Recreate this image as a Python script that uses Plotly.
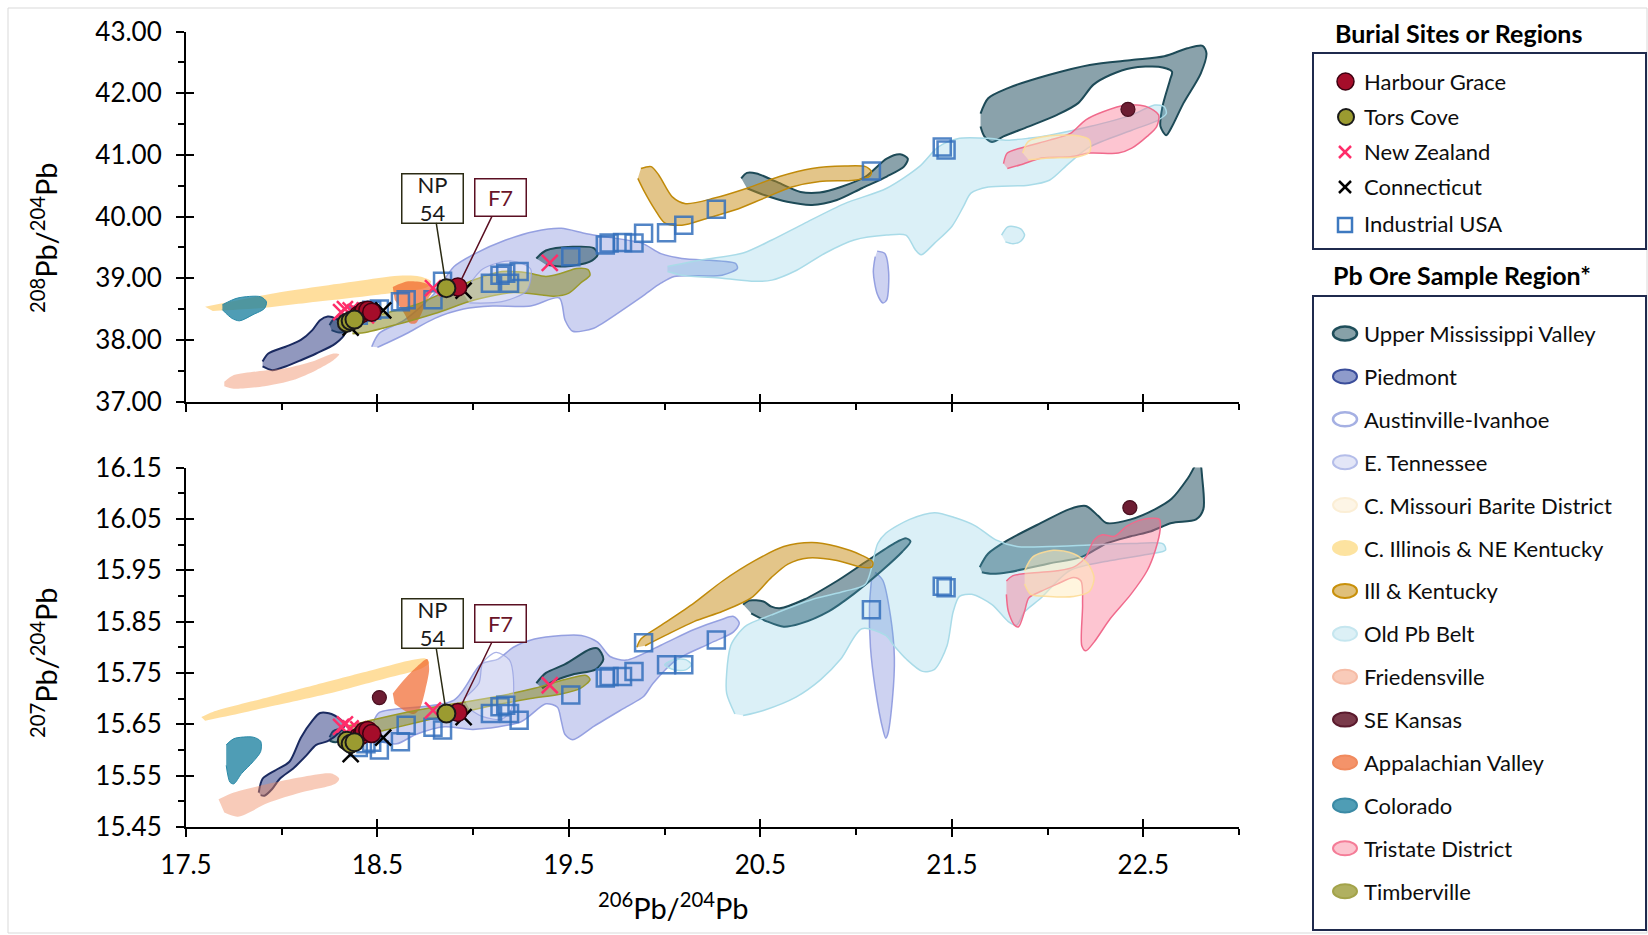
import plotly.graph_objects as go

# ---------------------------------------------------------------- data
X_TICKS = [17.5, 18.5, 19.5, 20.5, 21.5, 22.5]
Y_TOP_TICKS = [37, 38, 39, 40, 41, 42, 43]
Y_BOT_TICKS = [15.45, 15.55, 15.65, 15.75, 15.85, 15.95, 16.05, 16.15]

# burial sites (206/204, 208/204, 207/204)
IND_X = [18.40, 18.44, 18.47, 18.51, 18.62, 18.65, 18.79, 18.84, 19.09, 19.14, 19.17, 19.19, 19.24,
         19.51, 19.69, 19.71, 19.78, 19.84, 19.89, 20.01, 20.10, 20.27, 21.08, 21.45, 21.47]
IND_TOP = [38.40, 38.45, 38.48, 38.50, 38.62, 38.65, 38.65, 38.95, 38.92, 39.05, 39.08, 38.92, 39.11,
           39.35, 39.54, 39.57, 39.58, 39.57, 39.73, 39.74, 39.86, 40.12, 40.74, 41.13, 41.08]
IND_BOT = [15.605, 15.612, 15.615, 15.600, 15.616, 15.648, 15.644, 15.639, 15.671, 15.684, 15.687, 15.671, 15.658,
           15.707, 15.740, 15.743, 15.743, 15.753, 15.809, 15.766, 15.766, 15.814, 15.873, 15.919, 15.916]

HG_X = [18.40, 18.42, 18.43, 18.45, 18.47, 18.92]
HG_TOP = [38.40, 38.43, 38.47, 38.48, 38.45, 38.86]
HG_BOT = [15.625, 15.630, 15.636, 15.638, 15.632, 15.673]

TC_X = [18.34, 18.36, 18.38, 18.86]
TC_TOP = [38.28, 38.31, 38.33, 38.84]
TC_BOT = [15.618, 15.612, 15.615, 15.671]

NZ_X = [18.31, 18.33, 18.36, 18.40, 18.44, 18.79, 19.40]
NZ_TOP = [38.45, 38.50, 38.48, 38.44, 38.40, 38.84, 39.25]
NZ_BOT = [15.645, 15.650, 15.642, 15.640, 15.637, 15.677, 15.726]

CT_X = [18.36, 18.53, 18.95]
CT_TOP = [38.20, 38.48, 38.80]
CT_BOT = [15.592, 15.624, 15.664]

SEK_TOP_X = [22.42]
SEK_TOP_Y = [41.74]
SEK_BOT_X = [18.51, 22.43]
SEK_BOT_Y = [15.702, 16.072]

# ore-region outlines (None separates polygons)
UMV_TOP_X = [21.65, 21.69, 21.79, 22.01, 22.22, 22.44, 22.61, 22.73, 22.81, 22.83, 22.80, 22.71, 22.65, 22.62, 22.59,
             22.60, 22.64, 22.65, 22.58, 22.44, 22.33, 22.24, 22.16, 22.05, 21.90, 21.77, 21.71, 21.67, 21.65, None,
             20.40, 20.43, 20.48, 20.58, 20.71, 20.81, 20.92, 21.05, 21.16, 21.23, 21.27, 21.25, 21.16, 21.03, 20.90,
             20.77, 20.64, 20.52, 20.43, None,
             19.33, 19.38, 19.52, 19.63, 19.65, 19.61, 19.48, 19.38, None,
             18.25, 18.27, 18.33, 18.36, 18.35, 18.30, 18.26]
UMV_TOP_Y = [41.67, 41.92, 42.08, 42.30, 42.46, 42.54, 42.60, 42.73, 42.77, 42.65, 42.32, 41.84, 41.46, 41.32, 41.46,
             41.78, 42.22, 42.35, 42.43, 42.41, 42.30, 42.14, 41.84, 41.65, 41.46, 41.30, 41.21, 41.30, 41.46, None,
             40.62, 40.71, 40.70, 40.57, 40.40, 40.39, 40.48, 40.65, 40.94, 41.01, 40.94, 40.81, 40.65, 40.46, 40.27,
             40.19, 40.24, 40.35, 40.46, None,
             39.32, 39.45, 39.51, 39.49, 39.38, 39.27, 39.19, 39.22, None,
             38.24, 38.33, 38.35, 38.29, 38.16, 38.12, 38.16]
UMV_BOT_X = [21.646, 21.689, 21.795, 21.966, 22.115, 22.20, 22.264, 22.307, 22.435, 22.563, 22.648, 22.733, 22.793,
             22.808, 22.814, 22.776, 22.648, 22.541, 22.435, 22.307, 22.179, 22.008, 21.795, 21.71, 21.657, None,
             20.41, 20.441, 20.516, 20.558, 20.601, 20.729, 20.90, 21.049, 21.198, 21.262, 21.284, 21.241, 21.134,
             20.985, 20.857, 20.708, 20.622, 20.537, 20.452, None,
             19.33, 19.38, 19.48, 19.61, 19.65, 19.68, 19.64, 19.52, 19.42, 19.36, None,
             18.25, 18.27, 18.31, 18.33, 18.32, 18.28, 18.25]
UMV_BOT_Y = [15.956, 15.982, 16.009, 16.042, 16.069, 16.075, 16.056, 16.042, 16.049, 16.069, 16.089, 16.129, 16.165,
             16.129, 16.069, 16.049, 16.042, 16.026, 16.016, 16.002, 15.976, 15.963, 15.946, 15.943, 15.946, None,
             15.883, 15.891, 15.889, 15.879, 15.876, 15.893, 15.929, 15.966, 16.002, 16.012, 16.006, 15.986, 15.949,
             15.903, 15.870, 15.846, 15.840, 15.850, 15.866, None,
             15.730, 15.750, 15.767, 15.796, 15.798, 15.777, 15.757, 15.747, 15.734, 15.720, None,
             15.625, 15.637, 15.640, 15.632, 15.620, 15.615, 15.618]

PIED_TOP_X = [17.90, 17.93, 18.02, 18.10, 18.16, 18.20, 18.24, 18.28, 18.32, 18.33, 18.28, 18.18, 18.10, 18.02, 17.95, 17.90]
PIED_TOP_Y = [37.65, 37.78, 37.89, 38.00, 38.16, 38.32, 38.38, 38.35, 38.24, 38.11, 37.94, 37.78, 37.67, 37.57, 37.51, 37.57]
PIED_BOT_X = [17.88, 17.90, 17.97, 18.04, 18.10, 18.16, 18.20, 18.26, 18.33, 18.30, 18.24, 18.18, 18.13, 18.06, 17.99,
              17.95, 17.91, 17.89]
PIED_BOT_Y = [15.517, 15.544, 15.561, 15.577, 15.624, 15.657, 15.672, 15.670, 15.650, 15.634, 15.617, 15.610, 15.590,
              15.564, 15.544, 15.524, 15.511, 15.512]

AUS_TOP_X = [18.95, 19.05, 19.20, 19.30, 19.28, 19.15, 18.98]
AUS_TOP_Y = [38.75, 39.15, 39.28, 39.15, 38.80, 38.62, 38.60]
AUS_BOT_X = [18.95, 19.03, 19.05, 19.12, 19.19, 19.21, 19.20, 19.15, 19.05, 18.98]
AUS_BOT_Y = [15.700, 15.730, 15.770, 15.790, 15.775, 15.740, 15.680, 15.660, 15.665, 15.680]

ETN_TOP_X = [18.47, 18.51, 18.64, 18.80, 18.90, 19.01, 19.17, 19.32, 19.46, 19.58, 19.67, 19.88, 19.98, 20.09, 20.37,
             20.38, 20.30, 20.05, 19.98, 19.88, 19.66, 19.63, 19.52, 19.48, 19.45, 19.30, 19.10, 18.95, 18.80, 18.65,
             18.55, 18.50, None,
             21.11, 21.15, 21.17, 21.16, 21.14, 21.11, 21.09, 21.10]
ETN_TOP_Y = [37.89, 38.11, 38.32, 38.76, 39.19, 39.40, 39.62, 39.76, 39.81, 39.73, 39.68, 39.57, 39.40, 39.32, 39.24,
             39.16, 39.05, 39.03, 38.92, 38.70, 38.24, 38.19, 38.14, 38.32, 38.68, 38.55, 38.55, 38.50, 38.35, 38.10,
             37.95, 37.88, None,
             39.44, 39.40, 39.10, 38.65, 38.60, 38.75, 39.10, 39.35]
ETN_BOT_X = [18.48, 18.51, 18.90, 19.04, 19.13, 19.21, 19.32, 19.46, 19.565, 19.65, 19.715, 19.80, 19.98, 20.15, 20.29,
             20.36, 20.39, 20.36, 20.24, 20.06, 19.94, 19.89, 19.80, 19.63, 19.52, 19.48, 19.46, 19.44, 19.38, 19.25,
             19.00, 18.85, 18.70, 18.60, 18.50, None,
             21.10, 21.14, 21.18, 21.20, 21.19, 21.165, 21.155, 21.14, 21.10, 21.075, 21.07, 21.08]
ETN_BOT_Y = [15.655, 15.673, 15.697, 15.767, 15.777, 15.800, 15.816, 15.823, 15.823, 15.810, 15.782, 15.775, 15.804,
             15.834, 15.853, 15.860, 15.847, 15.830, 15.808, 15.775, 15.730, 15.704, 15.684, 15.646, 15.620, 15.630,
             15.657, 15.683, 15.690, 15.655, 15.640, 15.645, 15.630, 15.612, 15.618, None,
             15.946, 15.930, 15.860, 15.780, 15.700, 15.630, 15.623, 15.640, 15.720, 15.800, 15.880, 15.930]

CMB_TOP_X = [21.87, 21.90, 22.01, 22.16, 22.22, 22.22, 22.16, 22.01, 21.90]
CMB_TOP_Y = [41.03, 41.22, 41.31, 41.31, 41.24, 41.05, 40.97, 40.95, 40.92]
CMB_BOT_X = [21.88, 21.923, 22.03, 22.136, 22.21, 22.243, 22.22, 22.136, 22.008, 21.912, 21.88]
CMB_BOT_Y = [15.949, 15.976, 15.989, 15.982, 15.963, 15.936, 15.909, 15.899, 15.899, 15.903, 15.923]

CIL_TOP_X = [17.60, 17.97, 18.39, 18.61, 18.72, 18.78, 18.76, 18.49, 18.18, 17.87, 17.64]
CIL_TOP_Y = [38.54, 38.76, 38.95, 39.04, 39.03, 38.95, 38.86, 38.73, 38.62, 38.51, 38.47]
CIL_BOT_X = [17.58, 17.64, 17.87, 18.18, 18.49, 18.68, 18.75, 18.77, 18.72, 18.55, 18.28, 17.97, 17.73, 17.60]
CIL_BOT_Y = [15.664, 15.674, 15.697, 15.727, 15.757, 15.775, 15.778, 15.770, 15.757, 15.740, 15.713, 15.687, 15.667, 15.657]

IK_TOP_X = [19.876, 19.93, 19.97, 20.04, 20.11, 20.26, 20.43, 20.60, 20.77, 20.94, 21.05, 21.08, 21.07, 20.99, 20.81,
            20.665, 20.52, 20.37, 20.22, 20.09, 20.00, 19.95, 19.89, 19.86]
IK_TOP_Y = [40.78, 40.81, 40.67, 40.32, 40.21, 40.30, 40.46, 40.65, 40.78, 40.82, 40.81, 40.73, 40.65, 40.59, 40.57,
            40.48, 40.30, 40.11, 39.97, 39.86, 39.90, 40.11, 40.43, 40.62]
IK_BOT_X = [19.855, 19.876, 19.983, 20.153, 20.303, 20.473, 20.622, 20.77, 20.90, 21.03, 21.087, 21.081, 21.028, 20.90,
            20.75, 20.644, 20.558, 20.452, 20.303, 20.153, 20.004, 19.898]
IK_BOT_Y = [15.800, 15.816, 15.843, 15.886, 15.929, 15.969, 15.996, 16.004, 15.996, 15.979, 15.966, 15.956, 15.956,
            15.969, 15.974, 15.962, 15.936, 15.896, 15.870, 15.850, 15.823, 15.803]

OPB_TOP_X = [20.015, 20.196, 20.41, 20.56, 20.73, 20.94, 21.16, 21.33, 21.43, 21.54, 21.69, 21.79, 21.90, 22.01, 22.22,
             22.44, 22.56, 22.61, 22.62, 22.58, 22.44, 22.22, 22.11, 22.01, 21.90, 21.69, 21.60, 21.56, 21.50, 21.41,
             21.34, 21.31, 21.26, 21.16, 20.99, 20.84, 20.69, 20.56, 20.47, 20.30, 20.09, 20.015, None,
             21.76, 21.79, 21.82, 21.86, 21.88, 21.86, 21.82, 21.78]
OPB_TOP_Y = [39.19, 39.30, 39.41, 39.62, 39.89, 40.21, 40.46, 40.81, 41.13, 41.27, 41.27, 41.24, 41.27, 41.32, 41.46,
             41.65, 41.81, 41.78, 41.67, 41.57, 41.40, 41.13, 40.86, 40.59, 40.51, 40.48, 40.38, 40.16, 39.84, 39.57,
             39.38, 39.46, 39.70, 39.70, 39.62, 39.41, 39.13, 38.97, 38.95, 39.00, 39.05, 39.11, None,
             39.70, 39.83, 39.84, 39.80, 39.70, 39.60, 39.56, 39.59]
OPB_BOT_X = [20.367, 20.324, 20.324, 20.345, 20.377, 20.43, 20.558, 20.77, 20.94, 21.049, 21.113, 21.155, 21.28, 21.41,
             21.518, 21.625, 21.73, 21.84, 22.01, 22.22, 22.435, 22.605, 22.616, 22.54, 22.33, 22.115, 21.966, 21.88,
             21.838, 21.795, 21.71, 21.604, 21.54, 21.507, 21.475, 21.41, 21.347, 21.262, 21.198, 21.155, 21.03, 20.92,
             20.815, 20.686, 20.516, 20.41, None,
             20.00, 20.05, 20.11, 20.14, 20.11, 20.05, 20.00]
OPB_BOT_Y = [15.670, 15.710, 15.750, 15.803, 15.823, 15.843, 15.863, 15.893, 15.909, 15.923, 16.002, 16.022, 16.049,
             16.062, 16.052, 16.036, 16.009, 15.996, 15.996, 15.999, 16.002, 16.001, 15.989, 15.982, 15.969, 15.949,
             15.896, 15.869, 15.843, 15.850, 15.883, 15.903, 15.899, 15.869, 15.803, 15.757, 15.753, 15.777, 15.803,
             15.823, 15.836, 15.777, 15.737, 15.703, 15.677, 15.667, None,
             15.766, 15.776, 15.776, 15.766, 15.756, 15.756, 15.766]

FR_TOP_X = [17.70, 17.75, 17.87, 18.02, 18.16, 18.27, 18.30, 18.27, 18.18, 18.06, 17.91, 17.75, 17.70]
FR_TOP_Y = [37.32, 37.43, 37.49, 37.54, 37.65, 37.78, 37.77, 37.67, 37.51, 37.35, 37.25, 37.21, 37.25]
FR_BOT_X = [17.67, 17.75, 17.93, 18.10, 18.26, 18.30, 18.28, 18.10, 17.93, 17.77, 17.70]
FR_BOT_Y = [15.504, 15.517, 15.534, 15.547, 15.554, 15.544, 15.534, 15.517, 15.497, 15.470, 15.478]

APP_TOP_X = [18.58, 18.66, 18.75, 18.79, 18.76, 18.73, 18.70, 18.67, 18.64, 18.59]
APP_TOP_Y = [38.86, 38.95, 38.92, 38.81, 38.65, 38.43, 38.27, 38.27, 38.43, 38.65]
APP_BOT_X = [18.58, 18.64, 18.70, 18.76, 18.77, 18.75, 18.72, 18.69, 18.64, 18.59]
APP_BOT_Y = [15.710, 15.737, 15.760, 15.777, 15.757, 15.717, 15.680, 15.670, 15.677, 15.690]

COL_TOP_X = [17.69, 17.77, 17.89, 17.92, 17.91, 17.85, 17.78, 17.74, 17.69]
COL_TOP_Y = [38.57, 38.68, 38.70, 38.62, 38.51, 38.41, 38.31, 38.35, 38.49]
COL_BOT_X = [17.71, 17.75, 17.85, 17.89, 17.89, 17.85, 17.79, 17.75, 17.73, 17.71]
COL_BOT_Y = [15.610, 15.622, 15.625, 15.617, 15.597, 15.577, 15.554, 15.534, 15.537, 15.570]

TRI_TOP_X = [21.77, 21.79, 21.88, 22.01, 22.12, 22.20, 22.29, 22.41, 22.52, 22.58, 22.57, 22.52, 22.44, 22.37, 22.22,
             22.12, 21.97, 21.86, 21.79]
TRI_TOP_Y = [40.86, 41.03, 41.13, 41.24, 41.35, 41.57, 41.70, 41.81, 41.78, 41.65, 41.46, 41.30, 41.11, 41.03, 41.03,
             40.97, 40.95, 40.84, 40.78]
TRI_BOT_X = [21.785, 21.817, 21.966, 22.05, 22.136, 22.20, 22.243, 22.286, 22.35, 22.414, 22.499, 22.584, 22.588,
             22.563, 22.52, 22.435, 22.328, 22.243, 22.20, 22.179, 22.183, 22.175, 22.136, 22.05, 21.966, 21.902,
             21.88, 21.849, 21.827, 21.795, 21.785]
TRI_BOT_Y = [15.929, 15.939, 15.946, 15.949, 15.956, 15.976, 16.009, 16.019, 16.016, 16.036, 16.049, 16.049, 16.029,
             15.989, 15.949, 15.903, 15.856, 15.810, 15.793, 15.803, 15.883, 15.929, 15.936, 15.923, 15.909, 15.896,
             15.870, 15.840, 15.843, 15.870, 15.903]

TIM_TOP_X = [18.36, 18.49, 18.70, 18.84, 19.01, 19.15, 19.28, 19.38, 19.46, 19.54, 19.60, 19.61, 19.56, 19.50, 19.42,
             19.36, 19.21, 19.01, 18.80, 18.59, 18.45, 18.37]
TIM_TOP_Y = [38.27, 38.39, 38.57, 38.76, 38.98, 39.11, 39.09, 39.03, 39.08, 39.16, 39.14, 39.05, 38.92, 38.76, 38.71,
             38.73, 38.77, 38.65, 38.43, 38.24, 38.13, 38.10]
TIM_BOT_X = [18.35, 18.49, 18.70, 18.90, 19.11, 19.32, 19.48, 19.59, 19.61, 19.56, 19.46, 19.30, 19.11, 18.90, 18.70,
             18.49, 18.37, 18.33]
TIM_BOT_Y = [15.647, 15.660, 15.677, 15.690, 15.703, 15.720, 15.737, 15.745, 15.737, 15.720, 15.709, 15.700, 15.687,
             15.670, 15.653, 15.634, 15.624, 15.627]

BURIAL_NAMES = ["Harbour Grace", "Tors Cove", "New Zealand", "Connecticut", "Industrial USA"]
ORE_NAMES = ["Upper Mississippi Valley", "Piedmont", "Austinville-Ivanhoe", "E. Tennessee",
             "C. Missouri Barite District", "C. Illinois & NE Kentucky", "Ill & Kentucky", "Old Pb Belt",
             "Friedensville", "SE Kansas", "Appalachian Valley", "Colorado", "Tristate District", "Timberville"]

# ---------------------------------------------------------------- layout helpers
W, H = 1648, 935
FONT = "Lato"


def px(v):
    return v / W


def py(v):
    return 1 - v / H


X_DOMAIN = [px(186), px(1239)]
TOP_DOMAIN = [py(401.6), py(31.6)]
BOT_DOMAIN = [py(827), py(467.5)]

fig = go.Figure()


def region(xs, ys, xa, ya, fill, line, lw):
    fig.add_trace(go.Scatter(
        x=xs, y=ys, xaxis=xa, yaxis=ya, mode="lines", fill="toself", fillcolor=fill,
        line=dict(color=line, width=lw, shape="spline", smoothing=0.8),
        hoverinfo="skip", showlegend=False))


REGION_LAYERS = [
    (ETN_TOP_X, ETN_TOP_Y, ETN_BOT_X, ETN_BOT_Y, "rgba(100,115,210,0.32)", "rgba(140,152,222,0.9)", 1.5),
    (UMV_TOP_X, UMV_TOP_Y, UMV_BOT_X, UMV_BOT_Y, "rgba(40,85,100,0.545)", "#1d4a57", 2),
    (OPB_TOP_X, OPB_TOP_Y, OPB_BOT_X, OPB_BOT_Y, "rgba(100,190,220,0.23)", "#a9dbe8", 1.5),
    (IK_TOP_X, IK_TOP_Y, IK_BOT_X, IK_BOT_Y, "rgba(200,140,20,0.5)", "#c08a0a", 1.5),
    (PIED_TOP_X, PIED_TOP_Y, PIED_BOT_X, PIED_BOT_Y, "rgba(35,50,125,0.5)", "#1a2a60", 2),
    (FR_TOP_X, FR_TOP_Y, FR_BOT_X, FR_BOT_Y, "rgba(240,140,100,0.45)", "rgba(240,140,100,0.0)", 0),
    (CIL_TOP_X, CIL_TOP_Y, CIL_BOT_X, CIL_BOT_Y, "rgba(255,190,60,0.5)", "rgba(255,190,60,0.0)", 0),
    (COL_TOP_X, COL_TOP_Y, COL_BOT_X, COL_BOT_Y, "rgba(30,130,160,0.78)", "#2a8aa8", 1),
    (APP_TOP_X, APP_TOP_Y, APP_BOT_X, APP_BOT_Y, "rgba(240,100,40,0.69)", "rgba(240,100,40,0.0)", 0),
    (TRI_TOP_X, TRI_TOP_Y, TRI_BOT_X, TRI_BOT_Y, "rgba(250,110,140,0.4)", "#f06a8c", 1.5),
    (CMB_TOP_X, CMB_TOP_Y, CMB_BOT_X, CMB_BOT_Y, "rgba(255,235,190,0.5)", "rgba(253,220,150,0.9)", 1.5),
    (TIM_TOP_X, TIM_TOP_Y, TIM_BOT_X, TIM_BOT_Y, "rgba(130,130,20,0.5)", "#9a9a2a", 1.5),
    (AUS_TOP_X, AUS_TOP_Y, AUS_BOT_X, AUS_BOT_Y, "rgba(255,255,255,0.3)", "rgba(150,160,225,0.8)", 1.2),
]
for tx, ty, bx, by, fc, lc, lw in REGION_LAYERS:
    region(tx, ty, "x2", "y2", fc, lc, lw)
    region(bx, by, "x", "y", fc, lc, lw)

IND_COLOR = "rgba(52,112,188,0.85)"


def points(xs, ys, xa, ya, marker):
    fig.add_trace(go.Scatter(x=xs, y=ys, xaxis=xa, yaxis=ya, mode="markers", marker=marker,
                             hoverinfo="skip", showlegend=False, cliponaxis=False))


MARKERS = [
    (SEK_TOP_X, SEK_TOP_Y, SEK_BOT_X, SEK_BOT_Y,
     dict(symbol="circle", size=14, color="#6d1d33", line=dict(color="#4a0f20", width=1.2))),
    (IND_X, IND_TOP, IND_X, IND_BOT,
     dict(symbol="square-open", size=17, color=IND_COLOR, line=dict(color=IND_COLOR, width=2.5))),
    (NZ_X, NZ_TOP, NZ_X, NZ_BOT,
     dict(symbol="x-thin-open", size=16, color="#ff2d6a", line=dict(color="#ff2d6a", width=2.5))),
    (CT_X, CT_TOP, CT_X, CT_BOT,
     dict(symbol="x-thin-open", size=16, color="#000000", line=dict(color="#000000", width=2.5))),
    (HG_X, HG_TOP, HG_X, HG_BOT,
     dict(symbol="circle", size=18, color="#a50d2a", line=dict(color="#3d0010", width=1.5))),
    (TC_X, TC_TOP, TC_X, TC_BOT,
     dict(symbol="circle", size=18, color="#9b9b30", line=dict(color="#1a1a1a", width=2))),
]
for tx, ty, bx, by, mk in MARKERS:
    points(tx, ty, "x2", "y2", mk)
    points(bx, by, "x", "y", mk)

# dummy traces so the inside-tick overlay axes are drawn
for xa, ya in [("x3", "y"), ("x", "y3"), ("x4", "y2"), ("x2", "y4")]:
    fig.add_trace(go.Scatter(x=[None], y=[None], xaxis=xa, yaxis=ya, mode="markers",
                             showlegend=False, hoverinfo="skip"))

TICKFONT = dict(family=FONT, size=26, color="#000000")
base_x = dict(range=[17.5, 23], tickmode="array", tickvals=X_TICKS, ticks="outside", ticklen=8, tickwidth=2,
              tickcolor="black", showline=True, linecolor="black", linewidth=2, showgrid=False, zeroline=False,
              domain=X_DOMAIN, tickfont=TICKFONT, ticklabelstandoff=6, automargin=False,
              minor=dict(ticks="outside", ticklen=6, tickwidth=2, tickcolor="black", tick0=17.5, dtick=0.5))
base_y = dict(tickmode="array", ticks="outside", ticklen=8, tickwidth=2, tickcolor="black", showline=True,
              linecolor="black", linewidth=2, showgrid=False, zeroline=False, tickfont=TICKFONT,
              tickformat=".2f", ticklabelstandoff=9, automargin=False)
inside = dict(ticks="inside", ticklen=8, tickwidth=2, tickcolor="black", showline=False, showgrid=False,
              zeroline=False, showticklabels=False, tickmode="array", automargin=False)

fig.update_layout(
    template="none",
    width=W, height=H, autosize=False,
    margin=dict(l=0, r=0, t=0, b=0, pad=0, autoexpand=False),
    paper_bgcolor="white", plot_bgcolor="rgba(0,0,0,0)",
    showlegend=False,
    font=dict(family=FONT, color="#000000"),
    xaxis=dict(base_x, anchor="y"),
    yaxis=dict(base_y, anchor="x", domain=BOT_DOMAIN, range=[15.45, 16.15], tickvals=Y_BOT_TICKS,
               minor=dict(ticks="outside", ticklen=6, tickwidth=2, tickcolor="black", tick0=15.45, dtick=0.05)),
    xaxis2=dict(base_x, anchor="y2", showticklabels=False),
    yaxis2=dict(base_y, anchor="x2", domain=TOP_DOMAIN, range=[37, 43], tickvals=Y_TOP_TICKS,
                minor=dict(ticks="outside", ticklen=6, tickwidth=2, tickcolor="black", tick0=37, dtick=0.5)),
    xaxis3=dict(inside, overlaying="x", anchor="y", range=[17.5, 23], tickvals=X_TICKS),
    yaxis3=dict(inside, overlaying="y", anchor="x", side="left", range=[15.45, 16.15], tickvals=Y_BOT_TICKS),
    xaxis4=dict(inside, overlaying="x2", anchor="y2", range=[17.5, 23], tickvals=X_TICKS),
    yaxis4=dict(inside, overlaying="y2", anchor="x2", side="left", range=[37, 43], tickvals=Y_TOP_TICKS),
)

annotations = []
shapes = []

# axis titles
TITLE_FONT = dict(family=FONT, size=29, color="#000000")
annotations.append(dict(text="<sup>206</sup>Pb/<sup>204</sup>Pb", x=px(673), y=py(906), xref="paper",
                        yref="paper", showarrow=False, font=TITLE_FONT, xanchor="center", yanchor="middle"))
for yc in (238, 663):
    annotations.append(dict(text=("<sup>208</sup>Pb/<sup>204</sup>Pb" if yc < 400 else
                                  "<sup>207</sup>Pb/<sup>204</sup>Pb"),
                            x=px(44), y=py(yc), xref="paper", yref="paper", showarrow=False, textangle=-90,
                            font=TITLE_FONT, xanchor="center", yanchor="middle"))

# sample labels NP 54 / F7
for xr, yr, ynp, yf7 in [("x2", "y2", TC_TOP[3], HG_TOP[5]), ("x", "y", TC_BOT[3], HG_BOT[5])]:
    annotations.append(dict(x=TC_X[3], y=ynp, xref=xr, yref=yr, text="NP<br>54", showarrow=True, arrowhead=0,
                            arrowwidth=1.5, arrowcolor="#2b2b14", ax=-14, ay=-90, standoff=8,
                            bordercolor="#2b2b14", borderwidth=1.5, borderpad=1, bgcolor="white", width=58,
                            height=46, font=dict(family=FONT, size=22, color="#1a1a1a")))
    annotations.append(dict(x=HG_X[5], y=yf7, xref=xr, yref=yr, text="F7", showarrow=True, arrowhead=0,
                            arrowwidth=1.5, arrowcolor="#5a0f22", ax=43, ay=-89, standoff=8,
                            bordercolor="#5a0f22", borderwidth=1.5, borderpad=2, bgcolor="white", width=46,
                            height=32, font=dict(family=FONT, size=22, color="#6a1428")))

# outer frame
shapes.append(dict(type="rect", xref="paper", yref="paper", x0=px(8), x1=px(1647), y0=py(933), y1=py(8),
                   line=dict(color="#d9d9d9", width=1), layer="below"))

# legend boxes
LEG_LINE = dict(color="#1f2a4d", width=2)
shapes.append(dict(type="rect", xref="paper", yref="paper", x0=px(1313), x1=px(1646), y0=py(249), y1=py(53),
                   line=LEG_LINE, fillcolor="white"))
shapes.append(dict(type="rect", xref="paper", yref="paper", x0=px(1313), x1=px(1646), y0=py(930), y1=py(296),
                   line=LEG_LINE, fillcolor="white"))
LEG_TITLE = dict(family=FONT, size=25, color="#000000")
annotations.append(dict(text="<b>Burial Sites or Regions</b>", x=px(1333), y=py(33), xref="paper", yref="paper",
                        showarrow=False, xanchor="left", yanchor="middle", font=LEG_TITLE))
annotations.append(dict(text="<b>Pb Ore Sample Region*</b>", x=px(1331), y=py(275), xref="paper", yref="paper",
                        showarrow=False, xanchor="left", yanchor="middle", font=LEG_TITLE))
LEG_FONT = dict(family=FONT, size=22, color="#0d0d0d")

burial_y = [81, 117, 151, 187, 223]
for name, yc in zip(BURIAL_NAMES, burial_y):
    annotations.append(dict(text=name, x=px(1362), y=py(yc), xref="paper", yref="paper", showarrow=False,
                            xanchor="left", yanchor="middle", font=LEG_FONT))
# burial symbols
shapes.append(dict(type="circle", xref="paper", yref="paper", x0=px(1337), x1=px(1354), y0=py(90), y1=py(73),
                   fillcolor="#a50d2a", line=dict(color="#3d0010", width=1.5)))
shapes.append(dict(type="circle", xref="paper", yref="paper", x0=px(1338), x1=px(1354), y0=py(125), y1=py(109),
                   fillcolor="#9b9b30", line=dict(color="#1a1a1a", width=2)))
for yc, col in [(152, "#ff2d6a"), (187, "#000000")]:
    shapes.append(dict(type="line", xref="paper", yref="paper", x0=px(1339), x1=px(1351), y0=py(yc - 6),
                       y1=py(yc + 6), line=dict(color=col, width=2.5)))
    shapes.append(dict(type="line", xref="paper", yref="paper", x0=px(1339), x1=px(1351), y0=py(yc + 6),
                       y1=py(yc - 6), line=dict(color=col, width=2.5)))
shapes.append(dict(type="rect", xref="paper", yref="paper", x0=px(1338), x1=px(1352), y0=py(232), y1=py(218),
                   line=dict(color="#3d79c0", width=2.5)))

ORE_STYLE = [("#87a1a8", "#1f4e5a", 2.5), ("#8e9bcb", "#3a4d9a", 2), ("#ffffff", "#a5b0e3", 2.5),
             ("#e3e6f7", "#b4bde9", 2), ("#fdf5e6", "#fbeed5", 2), ("#fde3a0", "#fde3a0", 2),
             ("#e0c07a", "#c8900a", 2), ("#dcf0f6", "#c5e6ef", 2), ("#f9cbb9", "#f6bca6", 2),
             ("#7a3a4a", "#5a1a2d", 2), ("#f4936a", "#f08a5e", 2), ("#4f9db5", "#3b8aa5", 2),
             ("#fcc4cf", "#f47c97", 2), ("#b0b060", "#a3a34a", 2)]
for i, (name, (fc, lc, lw)) in enumerate(zip(ORE_NAMES, ORE_STYLE)):
    yc = 333.5 + i * 42.9
    shapes.append(dict(type="circle", xref="paper", yref="paper", x0=px(1333), x1=px(1357), y0=py(yc + 7),
                       y1=py(yc - 7), fillcolor=fc, line=dict(color=lc, width=lw)))
    annotations.append(dict(text=name, x=px(1362), y=py(yc), xref="paper", yref="paper", showarrow=False,
                            xanchor="left", yanchor="middle", font=LEG_FONT))

fig.update_layout(annotations=annotations, shapes=shapes)
fig.write_html("out.html")
